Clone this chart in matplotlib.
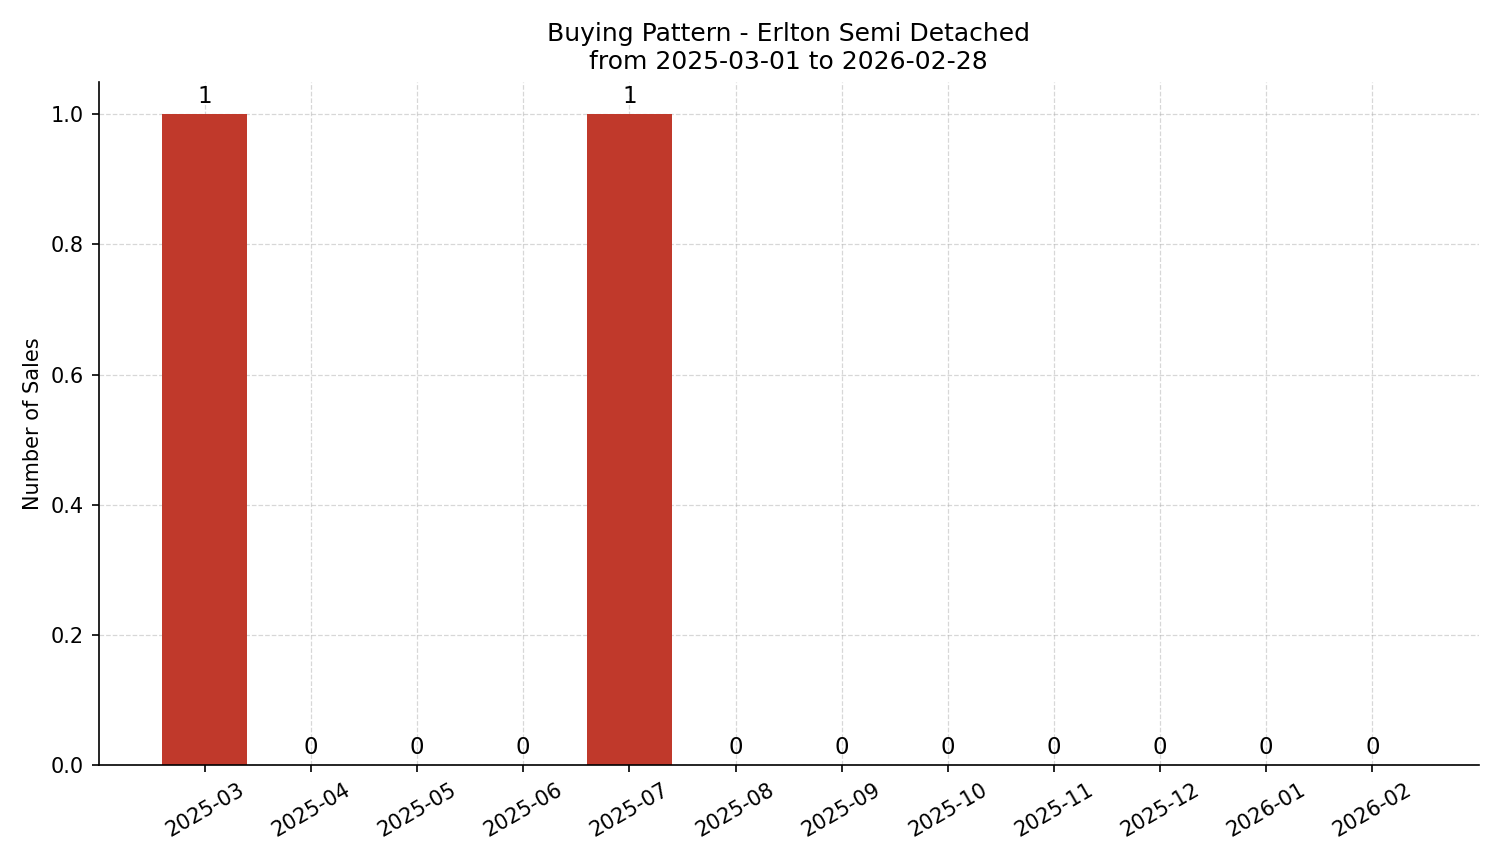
import matplotlib
matplotlib.use("Agg")
import matplotlib.pyplot as plt
import numpy as np

months = ["2025-03", "2025-04", "2025-05", "2025-06", "2025-07", "2025-08",
          "2025-09", "2025-10", "2025-11", "2025-12", "2026-01", "2026-02"]
sales = [1, 0, 0, 0, 1, 0, 0, 0, 0, 0, 0, 0]

fig, ax = plt.subplots(figsize=(1501 / 150, 863 / 150), dpi=150)
x = np.arange(len(months))
bars = ax.bar(x, sales, width=0.8, color="#c0392b", zorder=2)
for xi, v in zip(x, sales):
    ax.text(xi, v + 0.01, str(v), ha="center", va="bottom", fontsize=11)

ax.set_xticks(x)
ax.set_xticklabels(months, rotation=30)
ax.set_xlim(-1, 12)
ax.set_ylim(0, 1.05)
ax.set_ylabel("Number of Sales")
ax.set_title("Buying Pattern - Erlton Semi Detached\nfrom 2025-03-01 to 2026-02-28", fontsize=12)
ax.grid(True, linestyle="--", linewidth=0.6, alpha=0.5, zorder=3)
ax.spines["top"].set_visible(False)
ax.spines["right"].set_visible(False)

plt.tight_layout()
fig.savefig("out.png", dpi=150)
